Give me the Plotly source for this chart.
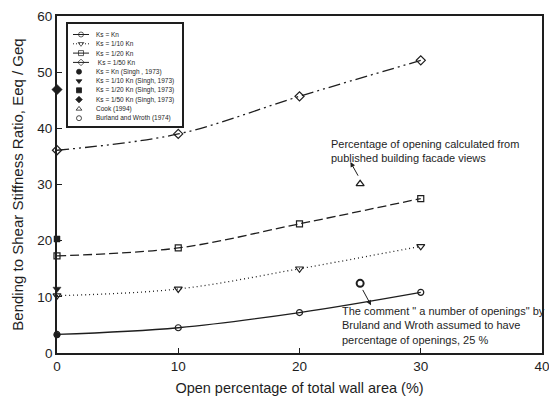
import plotly.graph_objects as go

# ---------------- data ----------------
open_pct = [0, 10, 20, 30]
ks_kn = [3.3, 4.5, 7.2, 10.8]
ks_10 = [10.2, 11.4, 15.0, 19.0]
ks_20 = [17.3, 18.7, 23.0, 27.5]
ks_50 = [36.1, 39.0, 45.7, 52.1]

singh_x = [0]
singh_kn = [3.2]
singh_10 = [11.4]
singh_20 = [20.3]
singh_50 = [46.9]

cook_x = [25]
cook_y = [30.1]
burland_x = [25]
burland_y = [12.4]

legend_labels = [
    "Ks = Kn", "Ks = 1/10 Kn", "Ks = 1/20 Kn", " Ks = 1/50 Kn",
    "Ks = Kn (Singh , 1973)", "Ks = 1/10 Kn (Singh, 1973)",
    "Ks = 1/20 Kn (Singh, 1973)", "Ks = 1/50 Kn (Singh, 1973)",
    "Cook (1994)", "Burland and Wroth (1974)",
]

FONT = "Arial, Liberation Sans, sans-serif"
INK = "#1e1e1e"

# styles: (dash or None, marker symbol, marker size)
styles = [
    ("solid", "circle-open", 6),
    ("1px,3px", "triangle-down-open", 7),
    ("9px,4px", "square-open", 6),
    ("12px,4px,2px,4px,2px,4px", "diamond-open", 7),
    (None, "circle", 6),
    (None, "triangle-down", 7),
    (None, "square", 6),
    (None, "diamond", 8),
    (None, "triangle-up-open", 6),
    (None, "circle-open", 6),
]

series_y = [ks_kn, ks_10, ks_20, ks_50]
singh_y = [singh_kn, singh_10, singh_20, singh_50]

fig = go.Figure()

for ys, (dash, sym, sz) in zip(series_y, styles[:4]):
    fig.add_trace(go.Scatter(
        x=open_pct, y=ys, mode="lines+markers", line_shape="spline",
        line=dict(color=INK, width=1.3, dash=dash),
        marker=dict(symbol=sym, size=sz, color=INK, line=dict(width=1.2, color=INK)),
        cliponaxis=False, showlegend=False))

for ys, (dash, sym, sz) in zip(singh_y, styles[4:8]):
    fig.add_trace(go.Scatter(
        x=singh_x, y=ys, mode="markers",
        marker=dict(symbol=sym, size=sz, color=INK, line=dict(width=0.5, color=INK)),
        cliponaxis=False, showlegend=False))

fig.add_trace(go.Scatter(
    x=cook_x, y=cook_y, mode="markers",
    marker=dict(symbol="triangle-up-open", size=7, color=INK, line=dict(width=1.3, color=INK)),
    showlegend=False))
fig.add_trace(go.Scatter(
    x=burland_x, y=burland_y, mode="markers",
    marker=dict(symbol="circle-open", size=7, color=INK, line=dict(width=2, color=INK)),
    showlegend=False))

# ---------------- custom legend (on pixel-unit overlay axes) ----------------
row0, row_step = 34.5, 9.3
for i, (lab, (dash, sym, sz)) in enumerate(zip(legend_labels, styles)):
    yy = row0 + row_step * i
    if dash is not None:
        fig.add_trace(go.Scatter(
            x=[73, 81, 89], y=[yy, yy, yy], xaxis="x2", yaxis="y2",
            mode="lines+markers",
            line=dict(color=INK, width=1, dash="solid" if i != 1 else "1px,2px"),
            marker=dict(symbol=sym, size=[0, 5, 0], color=INK, line=dict(width=1, color=INK)),
            showlegend=False, hoverinfo="skip"))
    else:
        fig.add_trace(go.Scatter(
            x=[79], y=[yy], xaxis="x2", yaxis="y2", mode="markers",
            marker=dict(symbol=sym, size=5, color=INK, line=dict(width=0.8, color=INK)),
            showlegend=False, hoverinfo="skip"))
    fig.add_annotation(x=94, y=yy, xref="x2", yref="y2", text=lab, showarrow=False,
                       xanchor="left", yanchor="middle",
                       font=dict(family=FONT, size=6.5, color=INK))

fig.add_shape(type="rect", xref="x2", yref="y2", x0=67, x1=183, y0=23, y1=127,
              line=dict(color=INK, width=2), fillcolor="rgba(0,0,0,0)")

# ---------------- annotations ----------------
fig.add_annotation(x=22.4, y=35.9, xref="x", yref="y",
                   text="Percentage of opening calculated from<br>published building facade views",
                   showarrow=False, xanchor="left", yanchor="middle", align="left",
                   font=dict(family=FONT, size=11, color=INK))
fig.add_annotation(x=24.2, y=34.0, ax=24.9, ay=31.3, xref="x", yref="y",
                   axref="x", ayref="y", showarrow=True, arrowhead=2, arrowsize=1,
                   arrowwidth=1, arrowcolor=INK, text="")
fig.add_annotation(x=23.3, y=4.9, xref="x", yref="y",
                   text="The comment \" a number of openings\" by<br>Bruland and Wroth assumed to have<br>percentage of openings, 25 %",
                   showarrow=False, xanchor="left", yanchor="middle", align="left",
                   font=dict(family=FONT, size=11, color=INK))
fig.add_annotation(x=25.9, y=8.5, ax=25.15, ay=11.5, xref="x", yref="y",
                   axref="x", ayref="y", showarrow=True, arrowhead=2, arrowsize=1,
                   arrowwidth=1, arrowcolor=INK, text="")

axis_common = dict(showgrid=False, zeroline=False, showline=True, mirror=True,
                   linecolor=INK, linewidth=1.8, ticks="inside", ticklen=5,
                   tickcolor=INK, tickwidth=1, automargin=False,
                   tickfont=dict(family=FONT, size=13.5, color=INK))

# page body adds an 8px offset, so the figure is sized/placed to compensate
fig.update_layout(
    width=549, height=398,
    margin=dict(l=49, r=15, t=8, b=53),
    paper_bgcolor="white", plot_bgcolor="white",
    xaxis=dict(range=[0, 40], dtick=10,
               title=dict(text="Open percentage of total wall area (%)", standoff=10,
                          font=dict(family=FONT, size=14.5, color=INK)),
               **axis_common),
    yaxis=dict(range=[0, 60], dtick=10,
               title=dict(text="Bending to Shear Stiffness Ratio, Eeq / Geq", standoff=10,
                          font=dict(family=FONT, size=15, color=INK)),
               **axis_common),
    xaxis2=dict(domain=[0, 1], anchor="y2", overlaying="x", range=[57, 542],
                visible=False, fixedrange=True),
    yaxis2=dict(domain=[0, 1], anchor="x2", overlaying="y", range=[353, 16],
                visible=False, fixedrange=True),
    showlegend=False,
)

fig.write_html("out.html")
